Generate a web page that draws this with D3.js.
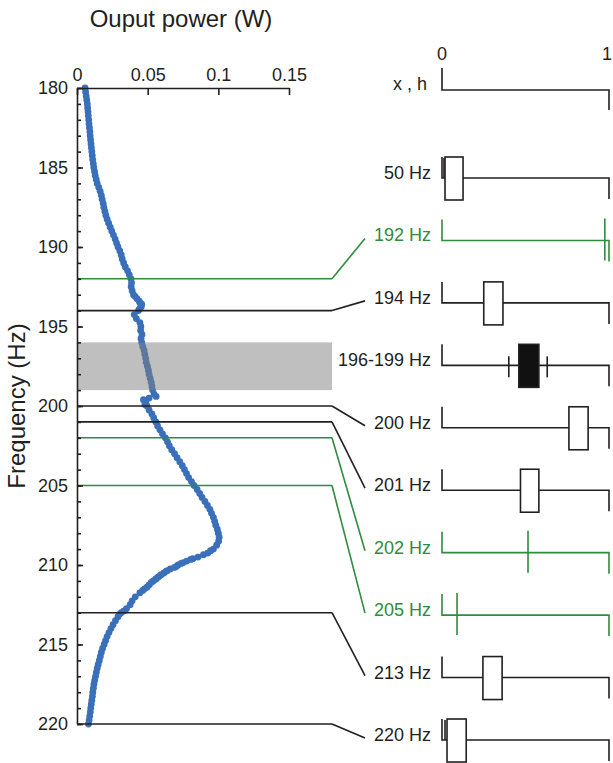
<!DOCTYPE html>
<html><head><meta charset="utf-8">
<script src="https://cdn.jsdelivr.net/npm/d3@7"></script>
<style>body{margin:0;background:#fff}svg{display:block}</style>
</head><body><svg id="c" width="613" height="763"></svg>
<script>
// ---- data ----
const freqs = [180,180.25,180.5,180.75,181,181.25,181.5,181.75,182,182.25,182.5,182.75,183,183.25,183.5,183.75,184,184.25,184.5,184.75,
185,185.25,185.5,185.75,186,186.25,186.5,186.75,187,187.25,187.5,187.75,188,188.25,188.5,188.75,189,189.25,189.5,189.75,
190,190.25,190.5,190.75,191,191.25,191.5,191.75,192,192.25,192.5,192.75,193,193.25,193.5,193.75,194,194.25,194.5,194.75,
195,195.25,195.5,195.75,196,196.25,196.5,196.75,197,197.25,197.5,197.75,198,198.25,198.5,198.75,199,199.25,199.5,199.75,
200,200.25,200.5,200.75,201,201.25,201.5,201.75,202,202.25,202.5,202.75,203,203.25,203.5,203.75,204,204.25,204.5,204.75,
205,205.25,205.5,205.75,206,206.25,206.5,206.75,207,207.25,207.5,207.75,208,208.25,208.5,208.75,209,209.25,209.5,209.75,
210,210.25,210.5,210.75,211,211.25,211.5,211.75,212,212.25,212.5,212.75,213,213.25,213.5,213.75,214,214.25,214.5,214.75,
215,215.25,215.5,215.75,216,216.25,216.5,216.75,217,217.25,217.5,217.75,218,218.25,218.5,218.75,219,219.25,219.5,219.75,220];
const power = [0.0057,0.0061,0.0065,0.0069,0.0073,0.0075,0.0078,0.0080,0.0083,0.0085,0.0088,0.0091,0.0093,0.0096,0.0099,0.0102,0.0105,0.0108,0.0111,0.0115,
0.0119,0.0124,0.0129,0.0136,0.0143,0.0154,0.0164,0.0172,0.0178,0.0185,0.0190,0.0197,0.0204,0.0213,0.0224,0.0235,0.0246,0.0258,0.0270,0.0280,
0.0290,0.0303,0.0313,0.0320,0.0330,0.0342,0.0358,0.0370,0.0382,0.0386,0.0383,0.0390,0.0400,0.0425,0.0445,0.0455,0.0435,0.0405,0.0420,0.0445,
0.0452,0.0450,0.0460,0.0453,0.0458,0.0465,0.0475,0.0480,0.0486,0.0490,0.0498,0.0505,0.0510,0.0518,0.0525,0.0530,0.0535,0.0545,0.0510,0.0485,
0.0495,0.0510,0.0530,0.0543,0.0558,0.0570,0.0587,0.0605,0.0625,0.0640,0.0653,0.0670,0.0690,0.0708,0.0727,0.0745,0.0760,0.0775,0.0790,0.0810,
0.0828,0.0850,0.0868,0.0885,0.0905,0.0923,0.0940,0.0952,0.0965,0.0974,0.0982,0.0993,0.1000,0.1006,0.1002,0.0988,0.0965,0.0925,0.0856,0.0776,
0.0715,0.0660,0.0615,0.0575,0.0540,0.0510,0.0478,0.0445,0.0412,0.0390,0.0376,0.0350,0.0312,0.0290,0.0272,0.0255,0.0240,0.0226,0.0213,0.0202,
0.0192,0.0181,0.0172,0.0165,0.0158,0.0150,0.0143,0.0137,0.0131,0.0125,0.0120,0.0116,0.0112,0.0109,0.0105,0.0101,0.0097,0.0094,0.0090,0.0086,0.0081];
// additional readings where the sweep is steep or noisy
const extraFreqs = [193.1,193.4,193.6,193.9,199.4,199.6,199.9,209.1,209.35,209.6,209.65,209.85,209.9,210.1,210.15,210.35,210.4,210.6,210.65,210.85,210.9,211.1,211.4,211.6,212.9,213.1];
const extraPower = [0.0410,0.0440,0.0458,0.0442,0.0560,0.0470,0.0480,0.0945,0.0895,0.0820,0.0805,0.0752,0.0737,0.0702,0.0690,0.0640,0.0630,0.0597,0.0590,0.0562,0.0555,0.0525,0.0495,0.0465,0.0330,0.0300];

const powerTicks = [0, 0.05, 0.1, 0.15];
const powerTickLabels = ["0", "0.05", "0.1", "0.15"];
const freqTicks = [180, 185, 190, 195, 200, 205, 210, 215, 220];
const freqMinorTicks = d3.range(180, 221, 1);

const markedFreqs = [192, 194, 200, 201, 202, 205, 213, 220];
const markedGreen = [true, false, false, false, true, true, false, false];
const bandFreqs = [196, 199];

const rowLabels = ["50 Hz","192 Hz","194 Hz","196-199 Hz","200 Hz","201 Hz","202 Hz","205 Hz","213 Hz","220 Hz"];
const rowLink   = [null, 192, 194, null, 200, 201, 202, 205, 213, 220];
const rowGreen  = [false, true, false, false, false, false, true, true, false, false];
const boxLow    = [0.018, null, 0.25, 0.46, 0.76, 0.47, null, null, 0.245, 0.03];
const boxHigh   = [0.126, null, 0.365, 0.58, 0.875, 0.58, null, null, 0.36, 0.145];
const boxFilled = [false, false, false, true, false, false, false, false, false, false];
const whiskers  = [[0.012], [], [], [0.40, 0.63], [], [], [], [], [], [0.018]];
const markerVal = [null, 0.975, null, null, null, null, 0.515, 0.09, null, null];
const xhTicks = [0, 1];
const xhTickLabels = ["0", "1"];

// ---- drawing ----
const BLACK = "#231f20", GREEN = "#2e8c3c", BLUE = "#3a70b9";
const FONT = "Arial, 'Liberation Sans', Helvetica, sans-serif";
const svg = d3.select("#c").style("font-family", FONT);

const x = d3.scaleLinear([0, 0.15], [77, 289]);
const y = d3.scaleLinear([180, 220], [88, 724]);
const lineEnd = 332, linkEnd = 365;
const xr = d3.scaleLinear([0, 1], [442, 609]);
const rowY = d3.scalePoint(rowLabels, [178, 740]);
const headerY = 90;

// points
const pts = freqs.map((f, i) => [f, power[i]]).concat(extraFreqs.map((f, i) => [f, extraPower[i]]));
svg.append("g").selectAll("circle").data(pts).join("circle")
  .attr("cx", d => x(d[1])).attr("cy", d => y(d[0]))
  .attr("r", 3.4).attr("fill", BLUE);

// gray band
svg.append("rect")
  .attr("x", x(0)).attr("width", lineEnd - x(0))
  .attr("y", y(bandFreqs[0])).attr("height", y(bandFreqs[1]) - y(bandFreqs[0]))
  .attr("fill", "#808080").attr("opacity", 0.5);

// horizontal lines
svg.append("g").selectAll("line").data(markedFreqs).join("line")
  .attr("x1", x(0)).attr("x2", lineEnd)
  .attr("y1", d => y(d)).attr("y2", d => y(d))
  .attr("stroke", (d, i) => markedGreen[i] ? GREEN : BLACK).attr("stroke-width", 1.6);

// connectors
rowLabels.forEach((lab, i) => {
  if (rowLink[i] == null) return;
  svg.append("line")
    .attr("x1", lineEnd).attr("y1", y(rowLink[i]))
    .attr("x2", linkEnd).attr("y2", rowY(lab) - 2)
    .attr("stroke", rowGreen[i] ? GREEN : BLACK).attr("stroke-width", 1.6);
});

// axes
const topAxis = d3.axisTop(x).tickValues(powerTicks)
  .tickFormat((d, i) => powerTickLabels[i]).tickSize(-7).tickSizeOuter(0).tickPadding(7);
const gt = svg.append("g").attr("transform", `translate(0,${y(180)})`).call(topAxis);
const leftAxis = d3.axisLeft(y).tickValues(freqTicks).tickFormat(d3.format("d"))
  .tickSize(-6).tickSizeOuter(0).tickPadding(9);
const gl = svg.append("g").attr("transform", `translate(${x(0)},0)`).call(leftAxis);
const minorAxis = d3.axisLeft(y).tickValues(freqMinorTicks).tickFormat("").tickSize(-4).tickSizeOuter(0);
const gm = svg.append("g").attr("transform", `translate(${x(0)},0)`).call(minorAxis);
gm.select(".domain").remove();
[gt, gl, gm].forEach(g => {
  g.selectAll("path,line").attr("stroke", BLACK).attr("stroke-width", 1.6);
  g.selectAll("text").attr("fill", BLACK).style("font-size", "18px").style("font-family", FONT);
});

svg.append("text").attr("x", 181).attr("y", 27).attr("text-anchor", "middle")
  .attr("fill", BLACK).style("font-size", "24px").text("Ouput power (W)");
svg.append("text").attr("transform", "translate(25,406) rotate(-90)").attr("text-anchor", "middle")
  .attr("fill", BLACK).style("font-size", "24px").text("Frequency (Hz)");

// right panel header
const hdr = svg.append("g");
hdr.append("path")
  .attr("d", `M${xr(0)},${headerY - 22}V${headerY}H${xr(1)}V${headerY + 20}`)
  .attr("fill", "none").attr("stroke", BLACK).attr("stroke-width", 1.6);
hdr.selectAll("text.t").data(xhTicks).join("text").attr("class", "t")
  .attr("x", d => xr(d) - (d === 1 ? 2 : 0)).attr("y", 60).attr("text-anchor", "middle")
  .attr("fill", BLACK).style("font-size", "18px").text((d, i) => xhTickLabels[i]);
hdr.append("text").attr("x", 427).attr("y", headerY).attr("text-anchor", "end")
  .attr("fill", BLACK).style("font-size", "18px").text("x , h");

// rows
rowLabels.forEach((lab, i) => {
  const cy = rowY(lab), col = rowGreen[i] ? GREEN : BLACK;
  const g = svg.append("g");
  g.append("path")
    .attr("d", `M${xr(0)},${cy - 21}V${cy}H${xr(1)}V${cy + 21}`)
    .attr("fill", "none").attr("stroke", col).attr("stroke-width", 1.6);
  whiskers[i].forEach(w => {
    const half = whiskers[i].length > 1;
    g.append("line").attr("x1", xr(w)).attr("x2", xr(w))
      .attr("y1", half ? cy - 9 : cy - 20).attr("y2", half ? cy + 12 : cy)
      .attr("stroke", col).attr("stroke-width", 1.6);
  });
  if (boxLow[i] != null) {
    g.append("rect").attr("x", xr(boxLow[i])).attr("width", xr(boxHigh[i]) - xr(boxLow[i]))
      .attr("y", cy - 21).attr("height", 43)
      .attr("fill", boxFilled[i] ? "#111" : "#fff").attr("stroke", BLACK).attr("stroke-width", 1.6);
  }
  if (markerVal[i] != null) {
    g.append("line").attr("x1", xr(markerVal[i])).attr("x2", xr(markerVal[i]))
      .attr("y1", cy - 22).attr("y2", cy + 20).attr("stroke", col).attr("stroke-width", 1.6);
  }
  g.append("text").attr("x", 431).attr("y", cy + 1).attr("text-anchor", "end")
    .attr("fill", col).style("font-size", "18px").text(lab);
});
</script></body></html>
